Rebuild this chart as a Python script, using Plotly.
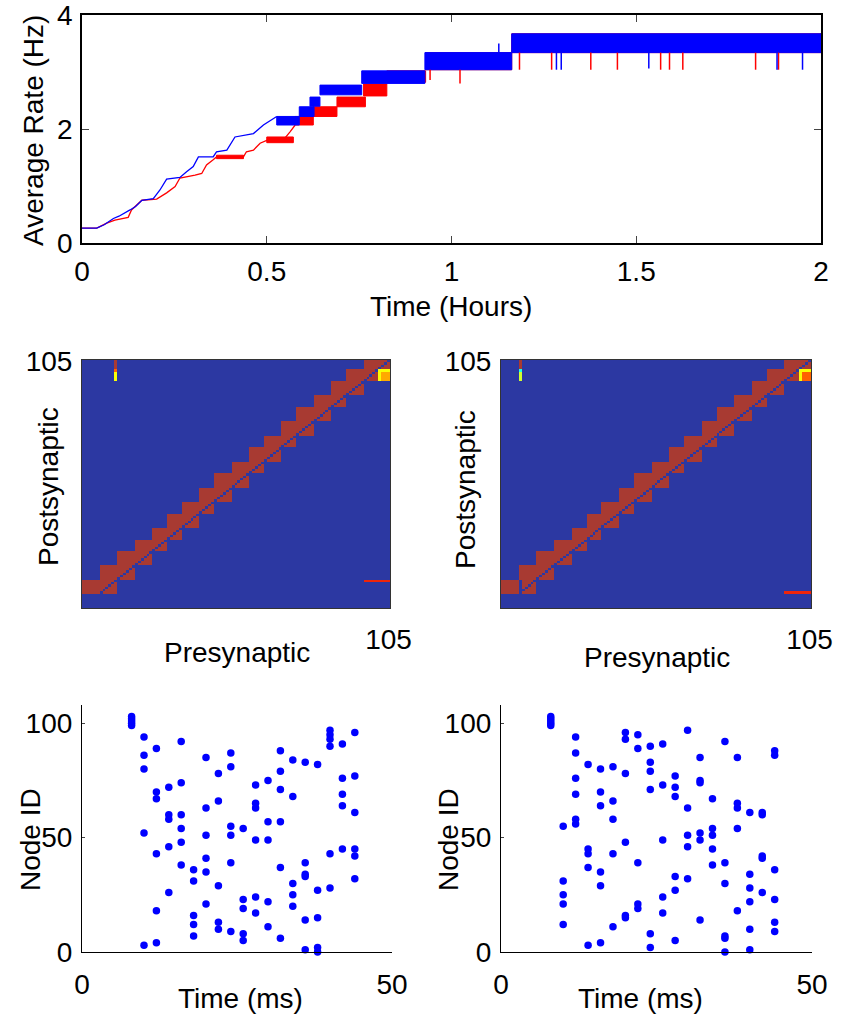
import plotly.graph_objects as go
import numpy as np

W, H = 841, 1014
FONT = "Liberation Sans, Arial, Helvetica, sans-serif"
FS = 28
RED = "#ff0000"
BLUE = "#0000ff"

# ---------------- Top panel: average rate (Hz) vs time (hours) ----------------
blue_t = [0.0, 0.04, 0.06, 0.085, 0.10, 0.112, 0.13, 0.145, 0.162, 0.193, 0.211, 0.229,
          0.265, 0.283, 0.301, 0.315, 0.355, 0.364, 0.392, 0.414, 0.464, 0.491, 0.527]
blue_v = [0.26, 0.26, 0.32, 0.43, 0.47, 0.51, 0.58, 0.64, 0.75, 0.78, 0.93, 1.12,
          1.15, 1.25, 1.34, 1.51, 1.51, 1.60, 1.63, 1.86, 1.92, 2.07, 2.22]
# rapidly toggling stretches: start, end, low level, high level
blue_band_t0 = [0.527, 0.588, 0.617, 0.644, 0.757, 0.928, 1.163]
blue_band_t1 = [0.588, 0.628, 0.644, 0.757, 0.928, 1.163, 2.000]
blue_band_lo = [2.07, 2.22, 2.40, 2.60, 2.80, 3.04, 3.34]
blue_band_hi = [2.22, 2.39, 2.56, 2.77, 3.02, 3.34, 3.67]
blue_dip_t = [1.128, 1.284, 1.297, 1.534, 1.881, 1.950]
blue_dip_from = [3.34, 3.34, 3.34, 3.34, 3.34, 3.34]
blue_dip_to = [3.50, 3.04, 3.04, 3.06, 3.04, 3.04]

red_t = [0.0, 0.04, 0.067, 0.089, 0.125, 0.134, 0.162, 0.202, 0.229, 0.252, 0.265, 0.283,
         0.306, 0.324, 0.337, 0.355, 0.364, 0.437, 0.445, 0.464, 0.482, 0.500, 0.549,
         0.563, 0.577]
red_v = [0.26, 0.26, 0.35, 0.40, 0.45, 0.58, 0.75, 0.77, 0.88, 0.99, 1.14, 1.16,
         1.19, 1.22, 1.37, 1.46, 1.51, 1.51, 1.60, 1.63, 1.75, 1.80, 1.84,
         1.95, 2.07]
red_band_t0 = [0.364, 0.500, 0.577, 0.626, 0.690, 0.762, 0.825, 0.930, 1.163]
red_band_t1 = [0.437, 0.572, 0.626, 0.690, 0.767, 0.825, 0.930, 1.163, 2.000]
red_band_lo = [1.48, 1.76, 2.07, 2.22, 2.39, 2.58, 2.82, 3.04, 3.34]
red_band_hi = [1.54, 1.86, 2.22, 2.39, 2.56, 2.79, 3.02, 3.34, 3.67]
red_dip_t = [0.942, 1.023, 1.184, 1.271, 1.377, 1.449, 1.566, 1.590, 1.626, 1.823, 1.885]
red_dip_from = [3.04, 3.04, 3.34, 3.34, 3.34, 3.34, 3.34, 3.34, 3.34, 3.34, 3.34]
red_dip_to = [2.86, 2.80, 3.04, 3.04, 3.04, 3.04, 3.04, 3.04, 3.04, 3.04, 3.04]

rate_xticks = [0, 0.5, 1, 1.5, 2]
rate_xticklabels = ["0", "0.5", "1", "1.5", "2"]
rate_yticks = [0, 2, 4]

# ---------------- Middle panels: connectivity matrices ----------------
n_nodes = 105
group_edges = [0, 6, 12, 18, 24, 29, 34, 40, 45, 51, 57, 62, 68, 73, 79, 85, 90, 96, 101, 105]
strong_w = 1.0
# patches: post_lo, post_hi, pre_lo, pre_hi, weight
left_patches = [(101, 105, 11, 12, 1.0), (100, 101, 11, 12, 0.80), (96, 100, 11, 12, 0.62),
                (96, 101, 101, 105, 0.62), (96, 100, 102, 105, 0.72), (11, 12, 96, 105, 0.90)]
right_patches = [(6, 12, 6, 7, 0.0), (101, 105, 6, 7, 1.0), (100, 101, 6, 7, 0.40),
                 (96, 100, 6, 7, 0.58), (96, 101, 101, 105, 0.62), (96, 100, 102, 105, 0.80),
                 (6, 7, 96, 105, 0.90)]

# ---------------- Bottom panels: spike rasters ----------------
spike_times = [8, 10, 12, 14, 16, 18, 20, 22, 24, 26, 28, 30, 32, 34, 36, 38, 40, 42, 44]
left_ids = [
    [99, 100, 101, 102, 103], [94, 86, 80, 52, 3], [89, 70, 67, 43, 18, 4],
    [72, 60, 58, 46, 26], [92, 74, 60, 54, 48, 38], [36, 31, 16, 12, 7],
    [85, 63, 51, 41, 35, 21], [78, 66, 29, 13, 10], [87, 81, 55, 51, 39, 9],
    [54, 23, 19, 8, 5], [73, 65, 63, 49, 24, 17], [75, 57, 49, 22, 11],
    [88, 79, 71, 57, 37, 6], [84, 68, 30, 25, 20], [83, 39, 34, 33, 14, 1],
    [82, 27, 15, 2, 0], [97, 95, 93, 90, 43, 28], [91, 76, 69, 64, 45],
    [96, 77, 61, 45, 42, 32]]
right_ids = [
    [99, 100, 101, 102, 103], [55, 31, 25, 21, 12], [94, 87, 76, 69, 58, 56],
    [82, 45, 43, 37, 3], [80, 70, 64, 35, 29, 4], [81, 66, 58, 43, 11],
    [96, 93, 78, 48, 16, 15], [95, 89, 39, 21, 19], [90, 83, 79, 71, 8, 2],
    [91, 73, 49, 24, 17], [77, 72, 68, 33, 27, 5], [97, 63, 51, 46, 32],
    [85, 75, 74, 52, 49, 14], [67, 54, 51, 45, 38], [92, 39, 30, 7, 6, 0],
    [85, 65, 63, 54, 18], [61, 34, 28, 22, 10, 1], [61, 60, 42, 41, 26],
    [88, 86, 36, 23, 13, 9]]


def dom_x(a, b):
    return [a / W, b / W]


def dom_y(top, bottom):
    return [1 - bottom / H, 1 - top / H]


def band_path(t0, t1, lo, hi):
    xs, ys = [], []
    for a, b, l, h in zip(t0, t1, lo, hi):
        xs += [a, b, b, a, a, None]
        ys += [l, l, h, h, l, None]
    return xs, ys


def dip_path(t, v0, v1):
    xs, ys = [], []
    for a, l, h in zip(t, v0, v1):
        xs += [a, a, None]
        ys += [l, h, None]
    return xs, ys


def build_matrix(patches):
    M = np.zeros((n_nodes, n_nodes))
    for k in range(1, len(group_edges) - 1):
        M[group_edges[k]:group_edges[k + 1], group_edges[k - 1]:group_edges[k + 1]] = strong_w
    np.fill_diagonal(M, 0)
    for r0, r1, c0, c1, w in patches:
        M[r0:r1, c0:c1] = w
    return M


fig = go.Figure()

# top panel traces
for col, tt, vv, b0, b1, blo, bhi in [
        (RED, red_t, red_v, red_band_t0, red_band_t1, red_band_lo, red_band_hi),
        (BLUE, blue_t, blue_v, blue_band_t0, blue_band_t1, blue_band_lo, blue_band_hi)]:
    fig.add_trace(go.Scatter(x=tt, y=vv, mode="lines", line=dict(color=col, width=1.3),
                             xaxis="x", yaxis="y", showlegend=False, hoverinfo="skip"))
    bx, by = band_path(b0, b1, blo, bhi)
    fig.add_trace(go.Scatter(x=bx, y=by, mode="lines", fill="toself", fillcolor=col,
                             line=dict(color=col, width=1), xaxis="x", yaxis="y",
                             showlegend=False, hoverinfo="skip"))
for col, dt, d0, d1 in [(RED, red_dip_t, red_dip_from, red_dip_to),
                        (BLUE, blue_dip_t, blue_dip_from, blue_dip_to)]:
    dx, dy = dip_path(dt, d0, d1)
    fig.add_trace(go.Scatter(x=dx, y=dy, mode="lines", line=dict(color=col, width=1.5),
                             xaxis="x", yaxis="y", showlegend=False, hoverinfo="skip"))

# heatmaps
cscale = [[0.0, "#2c38a2"], [0.125, "#0000ff"], [0.375, "#00ffff"], [0.625, "#ffff00"],
          [0.875, "#ff2000"], [1.0, "#a83a32"]]
idx = list(range(1, n_nodes + 1))
for patches, xa, ya in [(left_patches, "x2", "y2"), (right_patches, "x3", "y3")]:
    fig.add_trace(go.Heatmap(z=build_matrix(patches), x=idx, y=idx, zmin=0, zmax=1,
                             colorscale=cscale, showscale=False, xaxis=xa, yaxis=ya,
                             hoverinfo="skip"))

# rasters
for ids, xa, ya in [(left_ids, "x4", "y4"), (right_ids, "x5", "y5")]:
    xs, ys = [], []
    for t, col_ids in zip(spike_times, ids):
        xs += [t] * len(col_ids)
        ys += col_ids
    fig.add_trace(go.Scatter(x=xs, y=ys, mode="markers", cliponaxis=False,
                             marker=dict(color=BLUE, size=7.5, line=dict(width=0)),
                             xaxis=xa, yaxis=ya, showlegend=False, hoverinfo="skip"))

tickfont = dict(family=FONT, size=FS, color="black")
common = dict(showgrid=False, zeroline=False, tickfont=tickfont, linecolor="black",
              showline=True, fixedrange=True, automargin=False, ticklabeloverflow="allow")

layout = dict(
    width=W, height=H, margin=dict(l=0, r=0, t=0, b=0, pad=0, autoexpand=False),
    autosize=False,
    paper_bgcolor="white", plot_bgcolor="white", showlegend=False,
    font=dict(family=FONT, size=FS, color="black"),
    xaxis=dict(common, domain=dom_x(82, 821), range=[0, 2], anchor="y",
               tickvals=rate_xticks, ticktext=rate_xticklabels, ticks="inside",
               ticklen=7, mirror="ticks", linewidth=1.5, ticklabelstandoff=3),
    yaxis=dict(common, domain=dom_y(15, 243), range=[0, 4], anchor="x",
               tickvals=rate_yticks, ticks="inside", ticklen=7, mirror="ticks",
               linewidth=1.5, ticklabelstandoff=2),
)
hm_axes = dict(common, ticks="", mirror=True, linecolor="#333333", linewidth=1,
               range=[0.5, 105.5], tickvals=[105], ticktext=["105"])
layout["xaxis2"] = dict(hm_axes, domain=dom_x(82, 390), anchor="y2", ticklabelstandoff=6)
layout["yaxis2"] = dict(hm_axes, domain=dom_y(360, 608), anchor="x2", ticklabelstandoff=3)
layout["xaxis3"] = dict(hm_axes, domain=dom_x(501, 811), anchor="y3", ticklabelstandoff=6)
layout["yaxis3"] = dict(hm_axes, domain=dom_y(360, 608), anchor="x3", ticklabelstandoff=3)

sc_axes = dict(common, ticks="inside", ticklen=3, linewidth=1.2, mirror=False)
layout["xaxis4"] = dict(sc_axes, domain=dom_x(82, 392), range=[0, 50], tickvals=[0, 50],
                        anchor="y4", ticklabelstandoff=7)
layout["yaxis4"] = dict(sc_axes, domain=dom_y(705, 952), range=[0, 108],
                        tickvals=[0, 50, 100], anchor="x4", ticklabelstandoff=3)
layout["xaxis5"] = dict(sc_axes, domain=dom_x(501, 812), range=[0, 50], tickvals=[0, 50],
                        anchor="y5", ticklabelstandoff=7)
layout["yaxis5"] = dict(sc_axes, domain=dom_y(705, 952), range=[0, 108],
                        tickvals=[0, 50, 100], anchor="x5", ticklabelstandoff=3)


def ann(text, x, y, angle=0):
    return dict(text=text, x=x / W, y=1 - y / H, xref="paper", yref="paper",
                showarrow=False, textangle=angle, xanchor="center", yanchor="middle",
                font=dict(family=FONT, size=FS, color="black"))


layout["annotations"] = [
    ann("Average Rate (Hz)", 33, 131, -90),
    ann("Time (Hours)", 451, 306),
    ann("Postsynaptic", 48, 487, -90),
    ann("Presynaptic", 237, 652),
    ann("Postsynaptic", 465, 490, -90),
    ann("Presynaptic", 657, 657),
    ann("Node ID", 30, 840, -90),
    ann("Time (ms)", 240, 998),
    ann("Node ID", 448, 840, -90),
    ann("Time (ms)", 640, 998),
]

fig.update_layout(layout)
fig.write_html("out.html", config={"responsive": False})
